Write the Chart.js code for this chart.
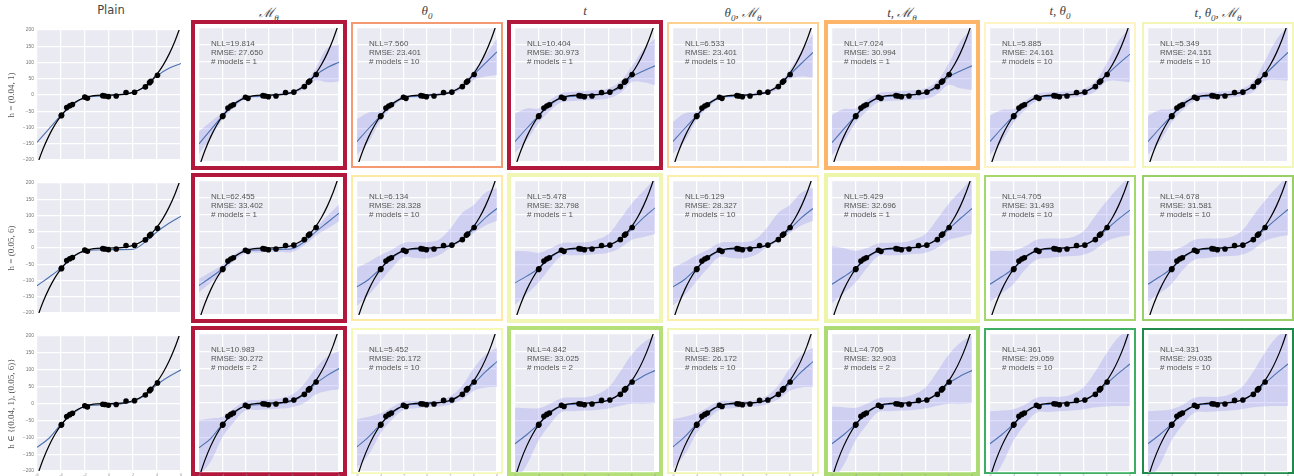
<!DOCTYPE html>
<html>
<head>
<meta charset="utf-8">
<script src="https://cdn.jsdelivr.net/npm/chart.js@4"></script>
<style>
  body { margin: 0; background: #fff; width: 1294px; height: 476px; overflow: hidden; position: relative; }
  .frame { position: absolute; box-sizing: border-box; }
  .cell { position: absolute; }
  .head { position: absolute; top: 3px; width: 160px; text-align: center; font-size: 11.5px; color: #444; }
  .math { font-family: "Liberation Serif", "DejaVu Serif", serif; font-style: italic; font-size: 13px; }
  .math sub { font-size: 9px; }
</style>
</head>
<body>
<script>
// grid of x positions for the fitted curves
const xGrid = [-6, -5, -4, -3, -2, -1, 0, 1, 2, 3, 4, 5, 6];

// ground truth curve
const truthX = [-6, -5.5, -5, -4.5, -4, -3.5, -3, -2.5, -2, -1.5, -1, -0.5, 0, 0.5, 1, 1.5, 2, 2.5, 3, 3.5, 4, 4.5, 5, 5.5, 6];
const truthY = [-216, -166.4, -125, -91.1, -64, -42.9, -27, -15.6, -8, -3.4, -1, -0.1, 0, 0.1, 1, 3.4, 8, 15.6, 27, 42.9, 64, 91.1, 125, 166.4, 216];

// training points
const pointsX = [-3.98, -3.95, -3.52, -3.27, -3.05, -2.02, -1.8, -0.52, -0.33, -0.05, 0.6, 1.42, 2.13, 3.03, 3.38, 3.49, 4.04];
const pointsY = [-64, -62, -38.7, -33, -29, -6.6, -10, -2, -3, -5, -3, 7.5, 8.5, 25, 38, 42, 61];

const colTitles = ['Plain', 'ℳ<sub>θ</sub>', 'θ<sub>0</sub>', 't', 'θ<sub>0</sub>, ℳ<sub>θ</sub>', 't, ℳ<sub>θ</sub>', 't, θ<sub>0</sub>', 't, θ<sub>0</sub>, ℳ<sub>θ</sub>'];
const rowLabels = ['h = (0.04, 1)', 'h = (0.05, 6)', 'h ∈ {(0.04, 1), (0.05, 6)}'];

// predictive mean per panel
const meanRow1 = [
  [-146, -104, -63, -30, -7, -4, -2, 2, 8, 25, 59, 82, 97],
  [-146, -104, -63, -30, -7, -4, -2, 2, 8, 25, 59, 82, 98],
  [-139, -100, -63, -30, -7, -4, -2, 2, 8, 25, 60, 95, 129],
  [-139, -100, -63, -30, -8, -4, -2, 1, 6, 22, 54, 72, 87],
  [-139, -100, -63, -30, -7, -4, -2, 2, 8, 25, 60, 94, 127],
  [-142, -102, -63, -30, -8, -4, -2, 1, 6, 22, 54, 72, 87],
  [-139, -100, -63, -30, -7, -4, -2, 2, 8, 25, 60, 92, 122],
  [-139, -100, -63, -30, -7, -4, -2, 2, 8, 25, 60, 94, 127]
];
const meanRow2 = [
  [-116, -90, -62, -28, -8, -6, -5, -5, -4, 18, 50, 76, 98],
  [-112, -88, -62, -29, -8, -6, -5, -4, -2, 18, 48, 76, 104],
  [-116, -94, -62, -30, -8, -4, -3, 1, 6, 25, 56, 90, 118],
  [-104, -84, -62, -30, -8, -4, -2, 2, 8, 25, 56, 90, 120],
  [-116, -94, -62, -30, -8, -4, -3, 1, 6, 25, 56, 90, 118],
  [-108, -86, -62, -30, -8, -4, -2, 2, 8, 25, 56, 88, 118],
  [-108, -86, -62, -30, -8, -4, -2, 2, 8, 25, 56, 86, 113],
  [-108, -86, -62, -30, -8, -4, -2, 2, 8, 25, 56, 86, 115]
];
const meanRow3 = [
  [-130, -103, -62, -30, -8, -5, -3, -1, 6, 24, 56, 80, 100],
  [-130, -103, -62, -30, -8, -5, -3, -1, 6, 24, 56, 80, 100],
  [-127, -98, -62, -30, -8, -4, -3, 1, 6, 25, 56, 90, 120],
  [-118, -92, -62, -30, -8, -4, -2, 2, 8, 25, 57, 78, 94],
  [-127, -98, -62, -30, -8, -4, -3, 1, 6, 25, 56, 90, 120],
  [-118, -92, -62, -30, -8, -4, -2, 2, 8, 25, 57, 78, 94],
  [-118, -92, -62, -30, -8, -4, -2, 2, 8, 25, 56, 86, 113],
  [-118, -92, -62, -30, -8, -4, -2, 2, 8, 25, 56, 86, 113]
];

// upper / lower edge of the uncertainty band (Plain has none)
const upperRow1 = [
  null,
  [-109, -80, -52, -22, -2, 0, 1, 5, 13, 33, 80, 140, 150],
  [-72, -52, -48, -22, -2, 0, 2, 6, 13, 33, 72, 118, 168],
  [-55, -40, -40, -15, 5, 10, 12, 14, 20, 40, 85, 136, 169],
  [-80, -55, -50, -22, -2, 0, 2, 6, 13, 33, 75, 130, 183],
  [-60, -42, -40, -15, 5, 10, 12, 14, 20, 42, 95, 160, 197],
  [-62, -45, -42, -17, 3, 8, 10, 12, 18, 40, 95, 160, 200],
  [-62, -45, -42, -17, 3, 8, 10, 12, 18, 40, 100, 165, 205]
];
const lowerRow1 = [
  null,
  [-175, -128, -74, -38, -12, -8, -5, -1, 3, 17, 43, 38, 40],
  [-178, -140, -78, -38, -12, -8, -6, -2, 3, 17, 45, 55, 60],
  [-172, -135, -85, -48, -22, -18, -16, -14, -10, 5, 38, 38, 29],
  [-175, -138, -76, -38, -12, -8, -6, -2, 3, 17, 47, 55, 52],
  [-180, -140, -85, -48, -22, -18, -16, -14, -12, 2, 30, 20, 15],
  [-178, -140, -84, -45, -18, -14, -12, -8, -3, 10, 40, 42, 38],
  [-178, -140, -84, -45, -18, -14, -12, -8, -3, 10, 42, 45, 43]
];
const upperRow2 = [
  null,
  [-92, -72, -50, -20, 0, 2, 2, 4, 8, 28, 60, 96, 130],
  [-59, -42, -22, -5, 15, 18, 18, 25, 58, 104, 128, 165, 179],
  [-9, -10, -14, -2, 14, 16, 17, 25, 42, 85, 132, 170, 207],
  [-59, -42, -22, -5, 15, 18, 18, 25, 58, 104, 128, 165, 180],
  [5, 0, -8, 0, 14, 16, 17, 25, 42, 85, 132, 170, 207],
  [-9, -8, -8, 5, 25, 28, 28, 32, 50, 95, 140, 180, 215],
  [-9, -8, -8, 5, 25, 28, 28, 32, 50, 95, 140, 180, 215]
];
const lowerRow2 = [
  null,
  [-132, -104, -74, -38, -16, -14, -12, -12, -12, 8, 36, 58, 80],
  [-172, -140, -100, -60, -27, -30, -31, -22, 1, 20, 44, 67, 81],
  [-170, -138, -104, -60, -24, -22, -21, -18, -14, 0, 24, 33, 42],
  [-172, -140, -100, -60, -27, -30, -31, -22, 1, 20, 44, 67, 81],
  [-165, -135, -104, -60, -24, -22, -21, -18, -14, 0, 24, 33, 42],
  [-160, -135, -108, -65, -35, -30, -26, -24, -20, -5, 20, 32, 38],
  [-160, -135, -108, -65, -35, -30, -26, -24, -20, -5, 20, 32, 38]
];
const upperRow3 = [
  null,
  [-50, -45, -40, -15, 5, 8, 10, 14, 25, 55, 100, 135, 150],
  [-47, -40, -30, -12, 5, 6, 6, 8, 20, 50, 100, 140, 160],
  [-14, -15, -15, -2, 14, 16, 17, 25, 45, 90, 140, 175, 195],
  [-47, -40, -30, -12, 5, 6, 6, 8, 20, 50, 100, 140, 160],
  [-10, -12, -14, -2, 14, 16, 17, 25, 45, 90, 140, 175, 195],
  [-24, -22, -18, -5, 15, 18, 18, 25, 45, 90, 145, 190, 215],
  [-24, -22, -18, -5, 15, 18, 18, 25, 45, 90, 145, 190, 215]
];
const lowerRow3 = [
  null,
  [-210, -170, -100, -55, -22, -20, -18, -16, -12, 0, 25, 35, 40],
  [-189, -150, -90, -48, -20, -15, -12, -10, -4, 10, 35, 45, 47],
  [-230, -180, -110, -62, -26, -24, -22, -20, -16, -8, -2, -2, 0],
  [-189, -150, -90, -48, -20, -15, -12, -10, -4, 10, 35, 45, 47],
  [-230, -180, -110, -62, -26, -24, -22, -20, -16, -8, -2, -2, 0],
  [-230, -180, -110, -62, -28, -26, -24, -22, -18, -12, -10, -9, -9],
  [-230, -180, -110, -62, -28, -26, -24, -22, -18, -12, -10, -9, -9]
];

// scores written in each panel
const nllText = [
  [null, '19.814', '7.560', '10.404', '6.533', '7.024', '5.885', '5.349'],
  [null, '62.455', '6.134', '5.478', '6.129', '5.429', '4.705', '4.678'],
  [null, '10.983', '5.452', '4.842', '5.385', '4.705', '4.361', '4.331']
];
const rmseText = [
  [null, '27.650', '23.401', '30.973', '23.401', '30.994', '24.161', '24.151'],
  [null, '33.402', '28.328', '32.798', '28.327', '32.696', '31.493', '31.581'],
  [null, '30.272', '26.172', '33.025', '26.172', '32.903', '29.059', '29.035']
];
const modelCount = [
  [null, 1, 10, 1, 10, 1, 10, 10],
  [null, 1, 10, 1, 10, 1, 10, 10],
  [null, 2, 10, 2, 10, 2, 10, 10]
];
const frameColors = [
  [null, '#B2183C', '#F49A72', '#B2183C', '#FDCF90', '#FDB56A', '#FEF3C2', '#F2F7B8'],
  [null, '#B2183C', '#FEE9A0', '#F1F6B4', '#FEEFA8', '#EDF5A8', '#A5D86B', '#98CF66'],
  [null, '#B2183C', '#F5F9B8', '#B5DF78', '#F0F6B2', '#ADDB73', '#3DAE62', '#1F8A4A']
];

const means = [meanRow1, meanRow2, meanRow3];
const uppers = [upperRow1, upperRow2, upperRow3];
const lowers = [lowerRow1, lowerRow2, lowerRow3];

const colLeft = [37, 195, 353, 511, 669, 828, 986, 1144];
const rowTop = [24, 177, 330];
const plotW = 148, plotH = 142;

const pairs = (xs, ys) => xs.map((x, i) => ({ x: x, y: ys[i] }));

const bgPlugin = {
  id: 'bg',
  beforeDraw(chart) {
    const a = chart.chartArea, ctx = chart.ctx;
    ctx.save();
    ctx.fillStyle = '#EAEAF2';
    ctx.fillRect(a.left, a.top, a.width, a.height);
    ctx.restore();
  }
};

const scorePlugin = {
  id: 'score',
  afterDatasetsDraw(chart, args, opts) {
    if (!opts.nll) return;
    const a = chart.chartArea, ctx = chart.ctx;
    ctx.save();
    ctx.fillStyle = '#555';
    ctx.font = '8px "Liberation Sans", Arial, sans-serif';
    ctx.textBaseline = 'middle';
    const x = a.left + 12, y = a.top + 16;
    ctx.fillText('NLL=' + opts.nll, x, y);
    ctx.fillText('RMSE: ' + opts.rmse, x, y + 8.7);
    ctx.fillText('# models = ' + opts.models, x, y + 17.4);
    ctx.restore();
  }
};

// column headings
colTitles.forEach((t, c) => {
  const d = document.createElement('div');
  d.className = 'head' + (c > 0 ? ' math' : '');
  if (c === 0) d.style.fontFamily = '"DejaVu Sans", sans-serif';
  d.style.left = (colLeft[c] + plotW / 2 - 80) + 'px';
  d.innerHTML = t;
  document.body.appendChild(d);
});

for (let r = 0; r < 3; r++) {
  for (let c = 0; c < 8; c++) {
    const padL = c === 0 ? 37 : 0;
    const padB = r === 2 ? 5 : 0;
    const color = frameColors[r][c];
    if (color) {
      const bw = modelCount[r][c] < 10 ? 4 : 2;
      const f = document.createElement('div');
      f.className = 'frame';
      f.style.left = (colLeft[c] - bw) + 'px';
      f.style.top = (rowTop[r] - bw) + 'px';
      f.style.width = (plotW + 2 * bw) + 'px';
      f.style.height = (plotH + 2 * bw) + 'px';
      f.style.border = bw + 'px solid ' + color;
      document.body.appendChild(f);
    }
    const cell = document.createElement('div');
    cell.className = 'cell';
    const w = plotW + padL, h = plotH + padB;
    cell.style.left = (colLeft[c] - padL) + 'px';
    cell.style.top = rowTop[r] + 'px';
    cell.style.width = w + 'px';
    cell.style.height = h + 'px';
    const cv = document.createElement('canvas');
    cv.width = w; cv.height = h;
    cv.style.width = w + 'px'; cv.style.height = h + 'px';
    cell.appendChild(cv);
    document.body.appendChild(cell);

    const datasets = [
      { data: pairs(pointsX, pointsY), showLine: false, pointRadius: 2.8, pointBackgroundColor: '#000', pointBorderWidth: 0 },
      { data: pairs(truthX, truthY), borderColor: '#000', borderWidth: 1.2, pointRadius: 0, cubicInterpolationMode: 'monotone' },
      { data: pairs(xGrid, means[r][c]), borderColor: '#4C72B0', borderWidth: 1.1, pointRadius: 0, cubicInterpolationMode: 'monotone' }
    ];
    if (uppers[r][c]) {
      datasets.push({ data: pairs(xGrid, uppers[r][c]), borderWidth: 0, pointRadius: 0, tension: 0.4,
        fill: '+1', backgroundColor: 'rgba(120,120,240,0.24)' });
      datasets.push({ data: pairs(xGrid, lowers[r][c]), borderWidth: 0, pointRadius: 0, tension: 0.4 });
    }

    new Chart(cv, {
      type: 'line',
      data: { datasets: datasets },
      plugins: [bgPlugin, scorePlugin],
      options: {
        responsive: false,
        animation: false,
        events: [],
        layout: { padding: 0 },
        plugins: {
          legend: { display: false },
          tooltip: { enabled: false },
          score: { nll: nllText[r][c], rmse: rmseText[r][c], models: modelCount[r][c] }
        },
        scales: {
          x: {
            type: 'linear', min: -6, max: 6,
            ticks: { stepSize: 2, display: r === 2, color: '#999', font: { size: 4 }, padding: 1 },
            grid: { color: '#fff', lineWidth: 1.2, drawTicks: false },
            border: { display: false },
            afterFit: s => { s.height = padB; }
          },
          y: {
            type: 'linear', min: -200, max: 200,
            ticks: { stepSize: 50, display: c === 0, color: '#777', font: { size: 5 }, padding: 3,
              callback: v => String(v).replace('-', '−') },
            grid: { color: '#fff', lineWidth: 1.2, drawTicks: false },
            border: { display: false },
            title: { display: c === 0, text: rowLabels[r], color: '#555', padding: { top: 6, bottom: 0 },
              font: { family: '"Liberation Serif", "DejaVu Serif", serif', size: 9 } },
            afterFit: s => { s.width = padL; }
          }
        }
      }
    });
  }
}
</script>
</body>
</html>
